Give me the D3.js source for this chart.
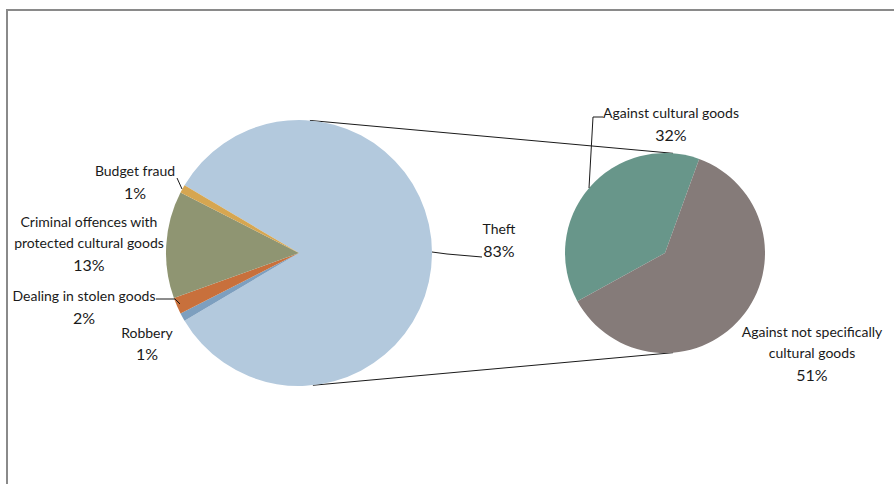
<!DOCTYPE html>
<html><head><meta charset="utf-8">
<script src="https://cdn.jsdelivr.net/npm/d3@7"></script>
<style>body{margin:0;background:#fff}svg{display:block}text{font-family:Lato,"Open Sans",sans-serif;font-size:14px;fill:#1a1a1a}text.pct{font-size:16px}</style>
</head><body><svg id="c" width="894" height="484"></svg>
<script>
// Main pie (order: clockwise starting from Theft)
const mainCategories = ["Theft", "Robbery", "Dealing in stolen goods", "Criminal offences with protected cultural goods", "Budget fraud"];
const mainValues = [83, 1, 2, 13, 1];
const mainColors = ["#b3c9dd", "#7d9fbf", "#c8703c", "#8f9572", "#d6a651"];
// Secondary pie (breakdown of Theft)
const subCategories = ["Against cultural goods", "Against not specifically cultural goods"];
const subValues = [32, 51];
const subColors = ["#68968a", "#857b79"];

const svg = d3.select("#c");
svg.append("rect").attr("x",7).attr("y",10).attr("width",900).attr("height",490)
  .attr("fill","#fff").attr("stroke","#8a8a8a").attr("stroke-width",2);

const deg = Math.PI/180;
const M = {cx:299, cy:253, r:133};
const S = {cx:665, cy:253, r:100};

// connector lines
const mTop = 4.7*deg, mBot = 174*deg, sTop = 4.6*deg, sBot = 175.4*deg;
const pt = (c,a)=>[c.cx + c.r*Math.sin(a), c.cy - c.r*Math.cos(a)];
[[pt(M,mTop),pt(S,sTop)],[pt(M,mBot),pt(S,sBot)]].forEach(([a,b])=>{
  svg.append("line").attr("x1",a[0]).attr("y1",a[1]).attr("x2",b[0]).attr("y2",b[1])
    .attr("stroke","#1a1a1a").attr("stroke-width",1);
});

// main pie
const otherShare = d3.sum(mainValues.slice(1))/d3.sum(mainValues);
const mStart = (270 + otherShare*360/2)*deg;
const mainPie = d3.pie().sort(null).startAngle(mStart).endAngle(mStart+2*Math.PI);
const arcM = d3.arc().innerRadius(0).outerRadius(M.r);
svg.append("g").attr("transform",`translate(${M.cx},${M.cy})`)
  .selectAll("path").data(mainPie(mainValues)).join("path")
  .attr("d",arcM).attr("fill",(d,i)=>mainColors[i]);

// secondary pie
const subTotal = d3.sum(subValues);
const sStart = (20 - subValues[0]/subTotal*360)*deg;
const subPie = d3.pie().sort(null).startAngle(sStart).endAngle(sStart+2*Math.PI);
const arcS = d3.arc().innerRadius(0).outerRadius(S.r);
svg.append("g").attr("transform",`translate(${S.cx},${S.cy})`)
  .selectAll("path").data(subPie(subValues)).join("path")
  .attr("d",arcS).attr("fill",(d,i)=>subColors[i]);

// leader lines
const leaders = [
  [[177,178],[182,189]],
  [[156,299],[175,299],[180,304]],
  [[432,252],[447,254],[482,257]],
  [[603,117],[593,117],[589,188]]
];
leaders.forEach(p=>svg.append("path").attr("d",d3.line()(p)).attr("fill","none")
  .attr("stroke","#1a1a1a").attr("stroke-width",1));

// labels
const labels = [
  {x:135, y:[171,193], t:["Budget fraud", mainValues[4]+"%"]},
  {x:89, y:[222,243,265], t:["Criminal offences with","protected cultural goods", mainValues[3]+"%"]},
  {x:84, y:[296,318], t:["Dealing in stolen goods", mainValues[2]+"%"]},
  {x:147, y:[333,354], t:["Robbery", mainValues[1]+"%"]},
  {x:499, y:[229,251], t:["Theft", mainValues[0]+"%"]},
  {x:671, y:[113,135], t:["Against cultural goods", subValues[0]+"%"]},
  {x:812, y:[332,353,375], t:["Against not specifically","cultural goods", subValues[1]+"%"]}
];
labels.forEach(l=>l.t.forEach((s,i)=>svg.append("text").attr("x",l.x).attr("y",l.y[i])
  .attr("dy","0.35em").attr("text-anchor","middle")
  .attr("class", i===l.t.length-1 ? "pct" : null).text(s)));
</script></body></html>
